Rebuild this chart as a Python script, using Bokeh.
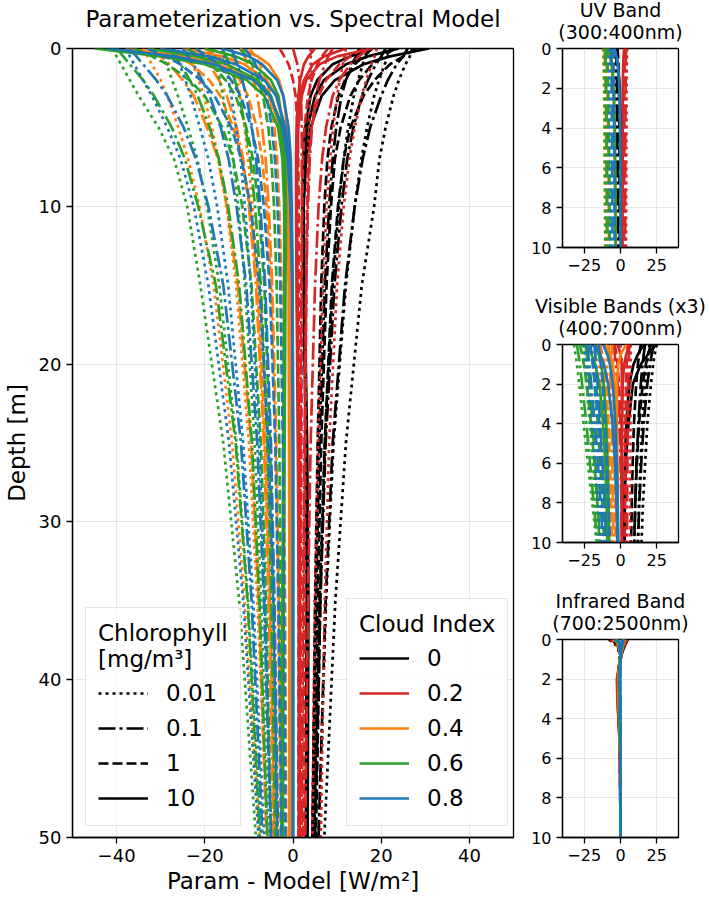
from bokeh.plotting import figure
from bokeh.layouts import row, column
from bokeh.models import Range1d, Legend, LegendItem, Title
from bokeh.embed import file_html
from bokeh.resources import INLINE

FONT = "DejaVu Sans"
COLORS = ["black", "#d62728", "#ff7f0e", "#2ca02c", "#1f77b4"]
CLOUD_LABELS = ["0", "0.2", "0.4", "0.6", "0.8"]
CHL_LABELS = ["0.01", "0.1", "1", "10"]
DASHES = ["3 4", "17 4 3 4", "10 4", "solid"]

MAIN_XTICKS = [-40, -20, 0, 20, 40]
MAIN_XLABELS = ["\u221240", "\u221220", "0", "20", "40"]
MAIN_YTICKS = [0, 10, 20, 30, 40, 50]
SMALL_XTICKS = [-25, 0, 25]
SMALL_XLABELS = ["\u221225", "0", "25"]
SMALL_YTICKS = [0, 2, 4, 6, 8, 10]

# ---------------- main panel: depth [m] and Param - Model [W/m2] -------------
DEPTH = [0, 0.5, 1, 2, 3, 5, 7, 10, 15, 25, 35, 50]

MAIN_K00 = [  # cloud 0 : chl 0.01, 0.1, 1, 10
    [[27, 26.5, 25.5, 24, 22.8, 21, 19.6, 18.4, 15.6, 12, 9.6, 7.1],
     [22, 21.5, 20.8, 19.5, 18.4, 16.8, 15.5, 14, 12, 9.2, 7.5, 5.8],
     [17, 16.5, 15.8, 14.8, 13.8, 12.5, 11.5, 10.4, 9, 7.2, 6, 4.8]],
    [[26, 25, 23.5, 21.5, 20, 17.5, 15.8, 14, 11.8, 9, 7.4, 5.8],
     [21, 20, 18.8, 17, 15.6, 13.7, 12.3, 11, 9.4, 7.4, 6.2, 5],
     [15, 14.3, 13.4, 12, 11, 9.8, 9, 8.2, 7.2, 6, 5.2, 4.4]],
    [[28, 25, 22, 18.5, 16, 13, 11.5, 10.2, 8.8, 7.2, 6.2, 5.2],
     [23, 20.5, 18, 15, 13, 10.8, 9.5, 8.6, 7.6, 6.4, 5.6, 4.8],
     [18, 16, 14, 11.8, 10.3, 8.7, 7.8, 7.1, 6.4, 5.6, 5, 4.4]],
    [[30.8, 22, 16, 9.5, 6.5, 4, 3, 2.4, 2.6, 3.2, 3.5, 3.3],
     [24, 17, 12, 7, 5, 3.3, 2.6, 2.2, 2.5, 3, 3.3, 3.1],
     [18, 13, 9, 5.5, 4, 2.8, 2.3, 2.1, 2.4, 2.9, 3.1, 2.9]],
]
MAIN_K02 = [  # cloud 0.2
    [[19, 18.5, 17.8, 16.6, 15.6, 14, 12.8, 11.5, 10, 8.2, 7.2, 6.3],
     [12, 11.7, 11.3, 10.6, 10, 9.1, 8.4, 7.6, 6.8, 5.7, 5, 4.4],
     [4, 4, 4, 3.9, 3.8, 3.6, 3.4, 3.2, 3, 2.7, 2.5, 2.3]],
    [[17, 15, 13, 10.5, 9, 7.5, 6.6, 5.8, 5, 4, 3.4, 2.8],
     [9, 8, 7.2, 6, 5.2, 4.3, 3.8, 3.4, 3, 2.6, 2.3, 2],
     [0, 0.5, 1, 1.5, 1.8, 2, 2, 2, 1.9, 1.7, 1.6, 1.5]],
    [[16, 13, 10.5, 7.5, 5.8, 4.2, 3.6, 3.2, 3, 2.8, 2.6, 2.4],
     [8, 6.5, 5.5, 4.2, 3.4, 2.6, 2.3, 2.1, 2, 1.9, 1.8, 1.7],
     [-3, -2, -1, 0, 0.6, 1, 1.2, 1.3, 1.3, 1.3, 1.3, 1.2]],
    [[18, 10, 6, 3, 2, 1.2, 1, 0.9, 1, 1.3, 1.5, 1.5],
     [12, 7, 4.5, 2.5, 1.6, 1, 0.8, 0.8, 0.9, 1.2, 1.4, 1.4],
     [5, 3.5, 2.5, 1.6, 1.2, 0.8, 0.7, 0.7, 0.8, 1.1, 1.3, 1.3]],
]
MAIN_K04 = [  # cloud 0.4
    [[-34, -33, -32, -30, -28.5, -26, -23.8, -21.2, -18, -13.8, -11, -7.6],
     [-24, -23.4, -22.7, -21.4, -20.2, -18.4, -16.9, -15.1, -12.9, -10, -8.1, -5.8],
     [-14, -13.7, -13.3, -12.6, -12, -11, -10.2, -9.2, -8, -6.4, -5.3, -4]],
    [[-32, -30, -28, -25, -22.5, -19.5, -17, -15, -12.5, -9.5, -7.8, -6],
     [-22, -20.5, -19, -16.8, -15, -12.8, -11.3, -10, -8.4, -6.6, -5.5, -4.4],
     [-12, -11, -10.2, -9, -8.1, -7, -6.2, -5.5, -4.7, -3.8, -3.2, -2.6]],
    [[-30, -26, -23, -19, -16.5, -13.5, -11.5, -9.8, -8, -6.2, -5.2, -4.2],
     [-20, -17, -15, -12, -10.2, -8.2, -7, -6, -5, -4, -3.4, -2.8],
     [-10, -8.5, -7.5, -6, -5.2, -4.2, -3.6, -3.1, -2.6, -2.1, -1.8, -1.5]],
    [[-38, -25, -17, -9, -5.5, -2.8, -1.8, -1.2, -1, -0.9, -0.8, -0.8],
     [-25, -16, -11, -6, -3.8, -2, -1.3, -1, -0.8, -0.7, -0.7, -0.7],
     [-12, -8, -5.5, -3.2, -2.2, -1.3, -0.9, -0.7, -0.6, -0.6, -0.6, -0.6]],
]
MAIN_K06 = [  # cloud 0.6
    [[-41, -40, -39, -37, -35, -30.5, -27, -24, -21, -15.8, -12.2, -8.4],
     [-30, -29.4, -28.7, -27.4, -26.1, -23.8, -21.7, -19.5, -16.7, -12.8, -10.2, -7.2],
     [-18, -17.7, -17.3, -16.6, -15.9, -14.7, -13.6, -12.4, -10.9, -8.7, -7.2, -5.5]],
    [[-40, -38.5, -37, -34, -31.5, -27.5, -24.5, -21.5, -17.5, -13, -10.3, -7.5],
     [-28, -26.8, -25.5, -23.4, -21.6, -18.9, -16.8, -14.7, -12.2, -9.3, -7.6, -5.8],
     [-16, -15.2, -14.4, -13.2, -12.2, -10.8, -9.7, -8.6, -7.3, -5.8, -4.9, -4]],
    [[-36, -32, -28.5, -23.5, -20, -16, -13.6, -11.5, -9.4, -7.3, -6.1, -5],
     [-24, -21, -18.5, -15.3, -13, -10.6, -9.1, -7.8, -6.5, -5.2, -4.4, -3.7],
     [-12, -10.5, -9.3, -7.8, -6.8, -5.6, -4.9, -4.3, -3.7, -3.1, -2.8, -2.5]],
    [[-45, -30, -20, -10.5, -6.5, -3.4, -2.4, -2, -2, -2.2, -2.4, -2.6],
     [-33, -22, -15, -8, -5, -2.8, -2.1, -1.8, -1.9, -2.1, -2.3, -2.5],
     [-20, -13, -9, -5, -3.3, -2.2, -1.8, -1.6, -1.7, -1.9, -2.1, -2.3]],
]
MAIN_K08 = [  # cloud 0.8
    [[-38, -37, -36, -34, -32, -28.5, -25.5, -22.5, -19.2, -14.5, -11.3, -7.8],
     [-27, -26.4, -25.7, -24.4, -23.2, -21.1, -19.2, -17.2, -14.7, -11.3, -9, -6.5],
     [-16, -15.7, -15.3, -14.6, -14, -12.9, -11.9, -10.9, -9.6, -7.7, -6.4, -4.9]],
    [[-37, -35.5, -34, -31, -28.5, -24.8, -22, -19.2, -15.8, -11.8, -9.4, -6.9],
     [-25, -23.8, -22.6, -20.6, -18.9, -16.4, -14.6, -12.8, -10.6, -8.1, -6.6, -5],
     [-14, -13.3, -12.6, -11.5, -10.6, -9.3, -8.4, -7.4, -6.3, -5, -4.2, -3.4]],
    [[-33, -29, -25.5, -21, -17.8, -14, -11.7, -9.6, -7.6, -5.6, -4.5, -3.5],
     [-22, -19.3, -17, -14, -11.9, -9.4, -7.9, -6.6, -5.3, -4, -3.3, -2.6],
     [-11, -9.6, -8.5, -7, -6, -4.8, -4.1, -3.5, -2.9, -2.3, -2, -1.7]],
    [[-42, -27, -18, -9, -5.2, -2.3, -1.2, -0.6, -0.2, 0, 0, 0],
     [-30, -19, -13, -6.5, -3.8, -1.7, -0.9, -0.4, -0.1, 0, 0, 0],
     [-16, -10, -7, -3.6, -2.2, -1, -0.5, -0.3, -0.1, 0, 0, 0]],
]

# ---------------- UV band -------------
SMALL_DEPTH = [0, 0.5, 1, 2, 4, 6, 8, 10]
UV_K00 = [[-4, -3.8, -3.6, -3.5, -3.4, -3.3, -3.2, -3.1],
          [-3, -2.8, -2.6, -2.4, -2.2, -2.1, -2, -1.9],
          [-2, -1.6, -1.3, -1, -0.8, -0.7, -0.6, -0.5],
          [-3.5, -2.5, -1.6, -0.5, 0.3, 0.5, 0.6, 0.6]]
UV_K02 = [[4.5, 4.4, 4.3, 4.2, 4.1, 4, 3.9, 3.8],
          [3.8, 3.7, 3.6, 3.5, 3.4, 3.3, 3.2, 3.2],
          [3, 2.9, 2.8, 2.7, 2.6, 2.6, 2.5, 2.5],
          [2.5, 2, 1.8, 1.6, 1.5, 1.5, 1.4, 1.4]]
UV_K04 = [[-12, -11.8, -11.6, -11.3, -11, -10.8, -10.6, -10.4],
          [-11, -10.8, -10.6, -10.3, -10, -9.8, -9.6, -9.5],
          [-10, -9.7, -9.4, -9, -8.6, -8.3, -8.1, -8],
          [-9, -7, -6, -5, -4.3, -4, -3.8, -3.6]]
UV_K06 = [[-11.5, -11.4, -11.3, -11.1, -10.9, -10.8, -10.6, -10.5],
          [-10.5, -10.3, -10.1, -9.8, -9.5, -9.3, -9.1, -9],
          [-9.5, -9.2, -8.9, -8.5, -8.1, -7.8, -7.6, -7.5],
          [-8, -6.5, -5.5, -4.5, -4, -3.6, -3.4, -3.2]]
UV_K08 = [[-8, -7.9, -7.8, -7.6, -7.4, -7.2, -7.1, -7],
          [-6.5, -6.4, -6.3, -6.1, -5.9, -5.7, -5.6, -5.5],
          [-5, -4.9, -4.8, -4.6, -4.4, -4.2, -4.1, -4],
          [-4, -2.5, -1.5, -0.8, -0.3, 0, 0, 0]]

# ---------------- Visible bands (x3) -------------
VIS_K00 = [[[25, 23.5, 22.5, 21, 18.5, 17, 15.5, 14.5], [20, 19, 18.3, 17, 15, 13.8, 12.8, 12]],
           [[23, 21.5, 20.3, 18.5, 16, 14.3, 13, 12], [17, 16, 15.2, 14, 12.3, 11, 10.2, 9.5]],
           [[21, 19, 17.5, 15.3, 12.8, 11.3, 10.2, 9.5], [14, 12.8, 12, 10.8, 9.3, 8.4, 7.8, 7.3]],
           [[24.5, 19, 14, 8.5, 5.5, 3.5, 3, 2.8], [16, 12, 9, 6, 4, 3, 2.8, 2.6]]]
VIS_K02 = [[[7, 7, 7, 7, 6.9, 6.8, 6.7, 6.6], [0, 0.5, 1, 1.6, 2.4, 3, 3.4, 3.7]],
           [[6, 5.8, 5.6, 5.3, 5, 4.8, 4.6, 4.5], [-5, -4, -3.2, -2, -0.8, 0, 0.6, 1]],
           [[5, 4.5, 4.2, 3.8, 3.4, 3.2, 3, 2.9], [-4, -2.8, -2, -1, 0, 0.6, 1, 1.2]],
           [[7, 4, 2.5, 1.5, 1, 1, 1, 1], [-2, 0, 0.8, 1, 1, 0.9, 0.9, 0.9]]]
VIS_K04 = [[[-10, -9.7, -9.4, -9, -8.3, -7.7, -7.1, -6.6], [-16, -15.4, -14.9, -14, -12.6, -11.4, -10.4, -9.6]],
           [[-8, -7.6, -7.3, -6.8, -6.2, -5.6, -5.2, -4.8], [-15, -14, -13.3, -12.2, -10.5, -9.3, -8.4, -7.6]],
           [[-6, -5.5, -5.2, -4.8, -4.4, -4, -3.7, -3.4], [-14, -12.5, -11.5, -10, -8.3, -7.2, -6.4, -5.8]],
           [[4, 0, -1.5, -2.5, -2.5, -2.2, -2, -1.8], [-10, -7, -5.5, -4, -3, -2.5, -2.2, -2]]]
VIS_K06 = [[[-32, -31, -30, -28.5, -25.5, -22.5, -19.5, -16.5], [-26, -25.3, -24.7, -23.5, -21.2, -19, -17, -15]],
           [[-30, -29, -28, -26.5, -23.5, -21, -18.5, -16], [-24, -23.3, -22.6, -21.4, -19.3, -17.4, -15.7, -14.2]],
           [[-28, -26.5, -25.3, -23.3, -20.3, -18, -16, -14.4], [-21, -20, -19.2, -17.8, -15.6, -14, -12.5, -11.3]],
           [[-24, -20, -17.5, -14.5, -12, -10.5, -9.5, -9], [-18, -15, -13.3, -11.5, -9.8, -8.8, -8.2, -7.8]]]
VIS_K08 = [[[-25, -24.3, -23.6, -22.3, -19.8, -17.5, -15.4, -13.5], [-20, -19.4, -18.9, -17.9, -16, -14.3, -12.8, -11.5]],
           [[-23, -22.2, -21.5, -20.2, -17.7, -15.6, -13.7, -12], [-18, -17.4, -16.9, -15.8, -14, -12.4, -11, -9.8]],
           [[-21, -19.8, -18.8, -17, -14.5, -12.6, -11, -9.8], [-15, -14.2, -13.5, -12.3, -10.6, -9.3, -8.2, -7.3]],
           [[-18, -14, -11.5, -8.5, -5.5, -3.8, -2.8, -2.2], [-12, -9, -7.3, -5.3, -3.5, -2.5, -1.9, -1.5]]]

# ---------------- Infrared band -------------
IR_DEPTH = [0, 0.3, 0.7, 1.2, 2, 3, 4.5, 6, 10]
IR_K00 = [[-8, -3, -0.5, -0.8, -1.5, -1.3, -0.6, -0.2, 0],
          [-6, -2, -0.4, -0.9, -1.8, -1.5, -0.7, -0.2, 0],
          [4, 2, 0.5, -0.8, -2, -1.8, -0.8, -0.3, 0],
          [5, 3, 1, -0.5, -2.2, -2, -1, -0.3, 0]]
IR_K02 = [[-7, -2.5, -0.4, -0.9, -1.7, -1.5, -0.7, -0.2, 0],
          [-4, -1.5, -0.2, -1, -2, -1.8, -0.8, -0.3, 0],
          [3, 1.5, 0.3, -0.8, -2.3, -2, -0.9, -0.3, 0],
          [4.5, 2.5, 0.8, -0.6, -2.5, -2.2, -1, -0.3, 0]]
IR_K04 = [[-5, -2, -0.3, -0.6, -1.2, -1, -0.5, -0.1, 0],
          [-3, -1.2, -0.1, -0.7, -1.3, -1.1, -0.5, -0.1, 0],
          [2, 1, 0.2, -0.5, -1.4, -1.2, -0.5, -0.1, 0],
          [3, 1.6, 0.5, -0.4, -1.5, -1.3, -0.6, -0.2, 0]]
IR_K06 = [[-4, -1.5, -0.2, -0.4, -0.9, -0.7, -0.3, -0.1, 0],
          [-2, -0.8, 0, -0.5, -1, -0.8, -0.3, -0.1, 0],
          [1.5, 0.8, 0.2, -0.4, -1, -0.8, -0.3, -0.1, 0],
          [2.5, 1.2, 0.4, -0.3, -1.1, -0.9, -0.4, -0.1, 0]]
IR_K08 = [[-3, -1, -0.1, -0.2, -0.4, -0.3, -0.1, 0, 0],
          [-1.5, -0.5, 0, -0.2, -0.4, -0.3, -0.1, 0, 0],
          [1, 0.5, 0.1, -0.1, -0.3, -0.2, -0.1, 0, 0],
          [2, 1, 0.3, 0, -0.2, -0.1, 0, 0, 0]]

MAIN = [MAIN_K00, MAIN_K02, MAIN_K04, MAIN_K06, MAIN_K08]
UV = [UV_K00, UV_K02, UV_K04, UV_K06, UV_K08]
VIS = [VIS_K00, VIS_K02, VIS_K04, VIS_K06, VIS_K08]
IR = [IR_K00, IR_K02, IR_K04, IR_K06, IR_K08]

LW = 2.7


def style(p, tick_px, xticks, xlabels, yticks):
    p.grid.grid_line_color = "#b0b0b0"
    p.grid.grid_line_alpha = 0.3
    p.outline_line_color = "black"
    p.outline_line_width = 1.3
    p.outline_line_alpha = 1
    p.xaxis.ticker = xticks
    p.yaxis.ticker = yticks
    p.xaxis.major_label_overrides = {t: l for t, l in zip(xticks, xlabels)}
    for ax in (p.xaxis, p.yaxis):
        ax.axis_line_width = 1.3
        ax.axis_line_color = "black"
        ax.major_tick_line_width = 1.3
        ax.major_tick_line_color = "black"
        ax.major_tick_out = 6
        ax.major_tick_in = 0
        ax.minor_tick_out = 0
        ax.minor_tick_in = 0
        ax.major_label_text_font = FONT
        ax.major_label_text_font_size = tick_px
        ax.major_label_text_color = "black"
        ax.major_label_standoff = 5
        ax.axis_label_text_font = FONT
        ax.axis_label_text_font_style = "normal"
        ax.axis_label_text_color = "black"


main = figure(width=518, height=897, x_range=Range1d(-50, 50), y_range=Range1d(50, 0),
              output_backend="svg", toolbar_location=None,
              min_border_left=68, min_border_right=5, min_border_top=48, min_border_bottom=60)
main.title.text = "Parameterization vs. Spectral Model"
main.title.align = "center"
main.title.vertical_align = "bottom"
main.title.text_font = FONT
main.title.text_font_size = "23px"
main.title.text_font_style = "normal"
main.title.text_color = "black"
main.title.standoff = -8
# blank spacer panel between the title and the frame, lifting the title
main.add_layout(Title(text=" ", text_font=FONT, text_font_size="14px", standoff=3), "above")
style(main, "18px", MAIN_XTICKS, MAIN_XLABELS, MAIN_YTICKS)
main.xaxis.axis_label = "Param - Model [W/m\u00b2]"
main.yaxis.axis_label = "Depth [m]"
main.xaxis.axis_label_text_font_size = "23px"
main.yaxis.axis_label_text_font_size = "23px"
main.xaxis.axis_label_standoff = 3
main.yaxis.axis_label_standoff = 6

chl_rend = {}
cloud_rend = {}
for k, (color, by_chl) in enumerate(zip(COLORS, MAIN)):
    for j, (dash, curves) in enumerate(zip(DASHES, by_chl)):
        for c in curves:
            r = main.line(x=c, y=DEPTH, line_color=color, line_dash=dash, line_width=LW)
            if k == 0 and j not in chl_rend:
                chl_rend[j] = r
            if j == 3 and k not in cloud_rend:
                cloud_rend[k] = r

chl_items = [LegendItem(label=lab, renderers=[chl_rend[j]]) for j, lab in enumerate(CHL_LABELS)]
cloud_items = [LegendItem(label=lab, renderers=[cloud_rend[k]]) for k, lab in enumerate(CLOUD_LABELS)]


def make_legend(items, title, loc):
    lg = Legend(items=items, location=loc, title=title)
    lg.title_text_font = FONT
    lg.title_text_font_size = "23px"
    lg.title_text_font_style = "normal"
    lg.title_text_color = "black"
    lg.title_standoff = 6
    lg.label_text_font = FONT
    lg.label_text_font_size = "23px"
    lg.label_text_color = "black"
    lg.glyph_width = 50
    lg.glyph_height = 30
    lg.label_height = 30
    lg.spacing = 5
    lg.padding = 12
    lg.margin = 0
    lg.label_standoff = 18
    lg.border_line_color = "#cccccc"
    lg.border_line_width = 1.3
    lg.background_fill_alpha = 0.8
    return lg


main.add_layout(make_legend(chl_items, "Chlorophyll\n[mg/m\u00b3]", (13, 11)))
main.add_layout(make_legend(cloud_items, "Cloud Index", (274, 11)))


def small(t1, t2, top, height, depth, data, pairs):
    f = figure(width=190, height=height, x_range=Range1d(-40, 40), y_range=Range1d(10, 0),
               output_backend="svg", toolbar_location=None,
               min_border_left=44, min_border_right=30, min_border_top=top, min_border_bottom=30)
    # the built-in title is the outer line; the added Title sits next to the frame
    f.title.text = t1
    f.title.align = "center"
    f.title.vertical_align = "bottom"
    f.title.text_font = FONT
    f.title.text_font_size = "19px"
    f.title.text_font_style = "normal"
    f.title.text_color = "black"
    f.title.standoff = -8
    f.add_layout(Title(text=t2, align="center", vertical_align="top", text_font=FONT,
                       text_font_size="19px", text_font_style="normal", text_color="black",
                       standoff=8), "above")
    style(f, "16px", SMALL_XTICKS, SMALL_XLABELS, SMALL_YTICKS)
    for color, by_chl in zip(COLORS, data):
        for dash, curves in zip(DASHES, by_chl):
            for c in (curves if pairs else [curves]):
                f.line(x=c, y=depth, line_color=color, line_dash=dash, line_width=LW)
    return f


uv = small("UV Band", "(300:400nm)", 48, 277, SMALL_DEPTH, UV, False)
vis = small("Visible Bands (x3)", "(400:700nm)", 67, 295, SMALL_DEPTH, VIS, True)
ir = small("Infrared Band", "(700:2500nm)", 67, 295, IR_DEPTH, IR, False)

layout = row(main, column(uv, vis, ir))
open("out.html", "w").write(file_html(layout, INLINE))
